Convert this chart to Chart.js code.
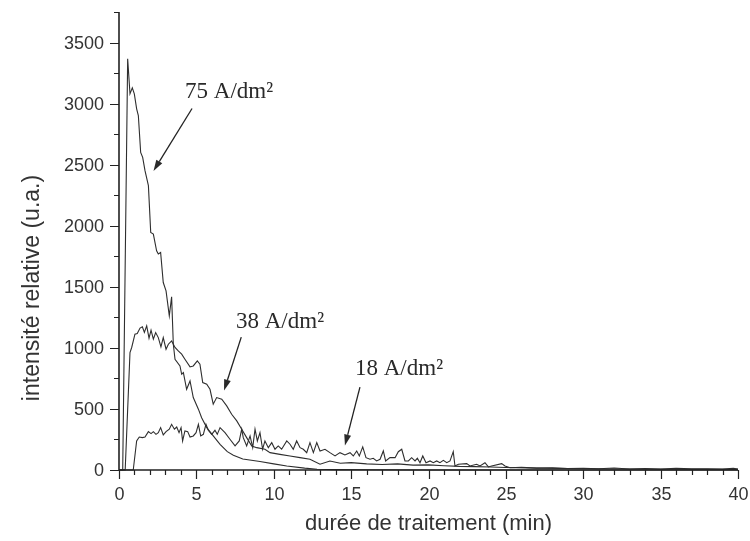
<!DOCTYPE html>
<html>
<head>
<meta charset="utf-8">
<title>intensité relative</title>
<script src="https://cdn.jsdelivr.net/npm/chart.js@4/dist/chart.umd.min.js"></script>
<style>
  html, body { margin: 0; padding: 0; background: #fff; }
  #wrap { width: 750px; height: 541px; }
</style>
</head>
<body>
<div id="wrap"><canvas id="chart" width="750" height="541"></canvas></div>
<script>
// tick labels
const xTicks = [0, 5, 10, 15, 20, 25, 30, 35, 40];
const yTicks = [0, 500, 1000, 1500, 2000, 2500, 3000, 3500];

// 75 A/dm2 : time (min) / intensity (u.a.)
const t75 = [0, 0.24, 0.56, 0.71, 0.86, 0.99, 1.14, 1.25, 1.40, 1.53, 1.68, 1.90, 2.05, 2.22, 2.43,
    2.54, 2.69, 2.86, 3.04, 3.25, 3.40, 3.51, 3.62, 3.94, 4.05, 4.16, 4.37, 4.59, 4.80, 5.13,
    5.34, 5.67, 6.09, 6.53, 7.0, 7.39, 8.0, 9.11, 10.0, 10.84, 12.0, 12.8, 14, 16, 20, 25, 30, 35, 40];
const i75 = [0, 0, 3367, 3080, 3129, 3080, 2957, 2902, 2601, 2560, 2451, 2328, 1945, 1932, 1795,
    1768, 1781, 1535, 1467, 1262, 1418, 1030, 907, 852, 784, 797, 661, 729, 593, 498,
    428, 347, 279, 210, 150, 120, 90, 70, 50, 33, 15, 6, 3, 2, 0, 0, 0, 0, 0];

// 38 A/dm2
const t38 = [0, 0.40, 0.71, 0.82, 1.03, 1.18, 1.36, 1.51, 1.64, 1.79, 1.94, 2.07, 2.22, 2.37, 2.54,
    2.71, 2.86, 3.04, 3.19, 3.40, 3.62, 3.83, 4.05, 4.26, 4.59, 4.80, 5.06, 5.23, 5.41, 5.67,
    5.88, 6.09, 6.31, 6.64, 6.96, 7.28, 7.61, 7.93, 8.25, 8.58, 8.90, 9.43, 9.76, 10.40, 11.05,
    11.70, 12.34, 12.99, 13.63, 14.3, 15, 16, 17, 18, 19, 20, 21, 22, 23, 24, 25, 27, 30, 33, 36, 40];
const i38 = [0, 0, 962, 1003, 1112, 1117, 1162, 1172, 1126, 1180, 1080, 1145, 1071, 1125, 1084,
    1008, 1084, 989, 1030, 1057, 1003, 975, 948, 907, 844, 852, 893, 866, 716, 702,
    661, 539, 593, 579, 525, 456, 402, 334, 265, 197, 183, 170, 142, 128, 115,
    101, 88, 47, 74, 55, 60, 50, 45, 50, 40, 42, 35, 30, 28, 25, 20, 15, 10, 8, 6, 5];

// 18 A/dm2
const t18 = [0, 0.92, 1.14, 1.31, 1.51, 1.68, 1.90, 2.07, 2.22, 2.39, 2.54, 2.69, 2.86, 3.04, 3.25,
    3.40, 3.58, 3.73, 3.88, 4.01, 4.11, 4.26, 4.44, 4.59, 4.80, 4.98, 5.13, 5.28, 5.45, 5.62,
    5.77, 5.99, 6.20, 6.35, 6.53, 6.85, 7.17, 7.50, 7.77, 7.93, 8.03, 8.25, 8.47, 8.64, 8.79,
    8.94, 9.11, 9.28, 9.43, 9.65, 9.87, 10.08, 10.29, 10.51, 10.84, 11.05, 11.26, 11.48, 11.70, 11.91,
    12.13, 12.34, 12.56, 12.78, 12.99, 13.31, 13.63, 13.96, 14.28, 14.60, 14.93, 15.14, 15.36, 15.53, 15.75,
    15.96, 16.22, 16.43, 16.65, 16.87, 17.08, 17.23, 17.51, 17.84, 18.05, 18.27, 18.48, 18.70, 18.91, 19.13,
    19.28, 19.45, 19.63, 19.84, 20.10, 20.31, 20.53, 20.74, 20.96, 21.18, 21.39, 21.60, 21.71, 21.93, 22.47,
    22.68, 23.11, 23.33, 23.65, 23.87, 24.08, 24.73, 24.94, 25.27, 26, 27, 28, 29, 30,
    31, 32, 33, 34, 35, 36, 37, 38, 39, 39.7, 40];
const i18 = [0, 0, 238, 270, 265, 270, 314, 298, 314, 292, 306, 347, 287, 314, 334,
    374, 334, 352, 306, 347, 238, 320, 314, 270, 279, 306, 374, 279, 292, 374,
    325, 292, 325, 292, 347, 306, 252, 197, 238, 334, 265, 197, 279, 183, 334,
    238, 306, 170, 238, 183, 224, 170, 197, 170, 238, 211, 170, 238, 183, 170,
    142, 224, 142, 224, 156, 170, 142, 115, 142, 123, 142, 115, 156, 115, 189,
    101, 88, 96, 74, 88, 156, 74, 101, 101, 150, 170, 74, 74, 101, 74,
    96, 60, 115, 60, 74, 60, 74, 60, 79, 60, 74, 150, 33, 47, 52,
    33, 47, 33, 60, 25, 33, 52, 33, 19, 22, 15, 18, 12, 14,
    10, 16, 8, 12, 7, 14, 9, 10, 8, 14, 8];

// annotation labels (anchored in data units)
const notes = [
    { text: '75 A/dm²', tx: 4.27, ty: 3098, from: [4.72, 2960], to: [2.23, 2449] },
    { text: '38 A/dm²', tx: 7.56, ty: 1211, from: [7.90, 1088], to: [6.79, 651] },
    { text: '18 A/dm²', tx: 15.25, ty: 824, from: [15.57, 679], to: [14.60, 201] }
];

function toPoints(xs, ys) {
    return xs.map(function(v, i) { return { x: v, y: ys[i] }; });
}

function lineSet(xs, ys) {
    return {
        data: toPoints(xs, ys),
        borderColor: '#2e2e2e',
        borderWidth: 1.1,
        pointRadius: 0,
        tension: 0,
        fill: false,
        clip: false
    };
}

function drawArrow(ctx, x1, y1, x2, y2) {
    const ang = Math.atan2(y2 - y1, x2 - x1);
    const len = 11, half = 3.5;
    const bx = x2 - len * Math.cos(ang), by = y2 - len * Math.sin(ang);
    ctx.beginPath();
    ctx.moveTo(x1, y1);
    ctx.lineTo(bx, by);
    ctx.stroke();
    ctx.beginPath();
    ctx.moveTo(x2, y2);
    ctx.lineTo(bx + half * Math.sin(ang), by - half * Math.cos(ang));
    ctx.lineTo(bx - half * Math.sin(ang), by + half * Math.cos(ang));
    ctx.closePath();
    ctx.fill();
}

// axes, ticks, labels and annotations
const decorPlugin = {
    id: 'decor',
    afterDraw: function(chart) {
        const ctx = chart.ctx;
        const a = chart.chartArea;
        const xs = chart.scales.x, ys = chart.scales.y;
        ctx.save();

        // axis lines
        ctx.strokeStyle = '#222';
        ctx.lineWidth = 1.6;
        ctx.beginPath();
        ctx.moveTo(a.left, a.top);
        ctx.lineTo(a.left, a.bottom);
        ctx.lineTo(a.right, a.bottom);
        ctx.stroke();

        // minor ticks
        ctx.lineWidth = 1.2;
        ctx.beginPath();
        for (let v = 250; v <= ys.max; v += 500) {
            const py = Math.round(ys.getPixelForValue(v)) + 0.5;
            ctx.moveTo(a.left - 5, py);
            ctx.lineTo(a.left, py);
        }
        for (let v = 1; v < xs.max; v++) {
            if (v % 5 === 0) continue;
            const px = Math.round(xs.getPixelForValue(v)) + 0.5;
            ctx.moveTo(px, a.bottom);
            ctx.lineTo(px, a.bottom + 5);
        }
        ctx.stroke();

        // major ticks + labels
        ctx.fillStyle = '#333';
        ctx.font = '18px "Liberation Sans", Arial, sans-serif';
        ctx.beginPath();
        ctx.textAlign = 'right';
        ctx.textBaseline = 'middle';
        yTicks.forEach(function(v) {
            const py = Math.round(ys.getPixelForValue(v)) + 0.5;
            ctx.moveTo(a.left - 9, py);
            ctx.lineTo(a.left, py);
            ctx.fillText(String(v), a.left - 15, py + 1);
        });
        ctx.textAlign = 'center';
        ctx.textBaseline = 'top';
        xTicks.forEach(function(v) {
            const px = Math.round(xs.getPixelForValue(v)) + 0.5;
            ctx.moveTo(px, a.bottom);
            ctx.lineTo(px, a.bottom + 9);
            ctx.fillText(String(v), px, a.bottom + 16);
        });
        ctx.stroke();

        // axis titles
        ctx.font = '22px "Liberation Sans", Arial, sans-serif';
        ctx.textBaseline = 'middle';
        ctx.fillText('durée de traitement (min)', (a.left + a.right) / 2, 524);
        ctx.save();
        ctx.translate(33, 288);
        ctx.rotate(-Math.PI / 2);
        ctx.font = '23px "Liberation Sans", Arial, sans-serif';
        ctx.fillText('intensité relative (u.a.)', 0, 0);
        ctx.restore();

        // annotations
        ctx.font = '23px "Liberation Serif", "Times New Roman", serif';
        ctx.textAlign = 'left';
        ctx.textBaseline = 'middle';
        ctx.fillStyle = '#2a2a2a';
        ctx.strokeStyle = '#222';
        ctx.lineWidth = 1.3;
        notes.forEach(function(n) {
            ctx.fillText(n.text, xs.getPixelForValue(n.tx), ys.getPixelForValue(n.ty));
            drawArrow(ctx,
                xs.getPixelForValue(n.from[0]), ys.getPixelForValue(n.from[1]),
                xs.getPixelForValue(n.to[0]), ys.getPixelForValue(n.to[1]));
        });
        ctx.restore();
    }
};

new Chart(document.getElementById('chart'), {
    type: 'line',
    data: {
        datasets: [lineSet(t75, i75), lineSet(t38, i38), lineSet(t18, i18)]
    },
    options: {
        responsive: false,
        animation: false,
        layout: { padding: { left: 119, right: 12, top: 12, bottom: 71 } },
        plugins: { legend: { display: false }, tooltip: { enabled: false } },
        scales: {
            x: { type: 'linear', min: 0, max: 40, display: false },
            y: { type: 'linear', min: 0, max: 3750, display: false }
        }
    },
    plugins: [decorPlugin]
});
</script>
</body>
</html>
